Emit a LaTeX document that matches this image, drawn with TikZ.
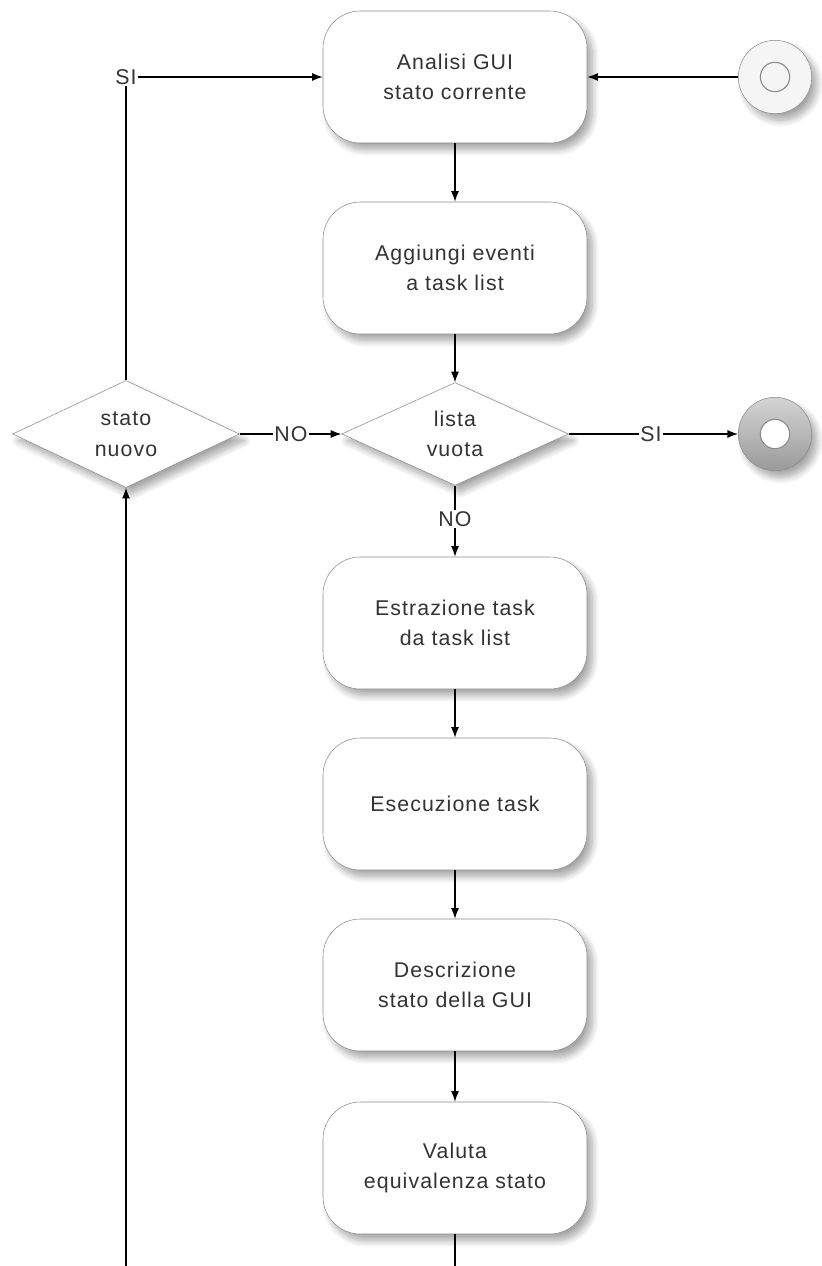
\documentclass[tikz,border=0pt]{standalone}
\usepackage{fontspec}
\setmainfont{Liberation Sans}[LetterSpace=5]
\usetikzlibrary{shapes.geometric,arrows.meta,shadows.blur}
\definecolor{txt}{HTML}{333333}
\definecolor{edge}{HTML}{8A8A8A}
\definecolor{ctop}{HTML}{D4D4D4}
\definecolor{cbot}{HTML}{9A9A9A}
\begin{document}
\begin{tikzpicture}[x=0.75pt,y=-0.75pt,
  shd/.style={blur shadow={shadow xshift=4pt, shadow yshift=-5pt, shadow blur steps=10, shadow blur radius=5pt, shadow opacity=35}},
  box/.style={draw=edge, fill=white, rounded corners=28pt, minimum width=198pt, minimum height=99pt,
    align=center, text=txt, font=\fontsize{16}{23}\selectfont, shd},
  dec/.style={diamond, draw=edge, fill=white, minimum width=170pt, minimum height=75pt, inner sep=0pt,
    align=center, text=txt, font=\fontsize{16}{23}\selectfont, shd},
  lab/.style={text=txt, font=\fontsize{16}{18}\selectfont, inner sep=1pt},
  arr/.style={-{Latex[length=8pt,width=6pt]}, line width=0.9pt},
  ln/.style={line width=0.9pt}]
\useasboundingbox (0,0) rectangle (821,1266);

\node[box] (analisi) at (455,77) {Analisi GUI\\stato corrente};
\node[box] (aggiungi) at (455,268) {Aggiungi eventi\\a task list};
\node[dec] (lista) at (455,434) {lista\\vuota};
\node[dec] (stato) at (126,434) {stato\\nuovo};
\node[box] (estr) at (455,623) {Estrazione task\\da task list};
\node[box] (esec) at (455,804) {Esecuzione task};
\node[box] (descr) at (455,985) {Descrizione\\stato della GUI};
\node[box] (valuta) at (455,1168) {Valuta\\equivalenza stato};

\node[circle, draw=edge, fill=gray!8, minimum size=55pt, inner sep=0pt, shd] (start) at (775,77) {};
\draw[edge, line width=0.8pt] (start.center) circle (11pt);
\node[circle, draw=edge, top color=ctop, bottom color=cbot, minimum size=55pt, inner sep=0pt, shd] (end) at (775,434) {};
\draw[edge, fill=white, line width=0.8pt] (end.center) circle (11pt);

\node[lab] (si1) at (126,77) {SI};
\node[lab] (no1) at (291,434) {NO};
\node[lab] (si2) at (651,434) {SI};
\node[lab] (no2) at (455,519) {NO};

\draw[arr] (start.west) -- (analisi.east);
\draw[arr] (analisi.south) -- (aggiungi.north);
\draw[arr] (aggiungi.south) -- (lista.north);
\draw[ln] (lista.east) -- (si2.west);
\draw[arr] (si2.east) -- (end.west);
\draw[ln] (lista.south) -- (no2.north);
\draw[arr] (no2.south) -- (estr.north);
\draw[arr] (estr.south) -- (esec.north);
\draw[arr] (esec.south) -- (descr.north);
\draw[arr] (descr.south) -- (valuta.north);
\coordinate (b2) at (455,1266);
\draw[ln] (valuta.south) -- (b2);
\coordinate (b1) at (126,1266);
\draw[arr] (b1) -- (stato.south);
\draw[ln] (stato.east) -- (no1.west);
\draw[arr] (no1.east) -- (lista.west);
\draw[ln] (stato.north) -- (si1.south);
\draw[arr] (si1.east) -- (analisi.west);
\end{tikzpicture}
\end{document}
